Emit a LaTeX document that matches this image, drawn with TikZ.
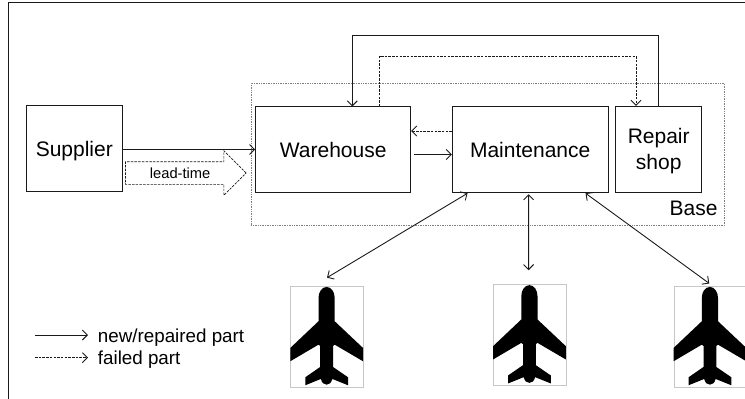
\documentclass[tikz,border=0pt]{standalone}
\usepackage{fontspec}
\setmainfont{Liberation Sans}
\usetikzlibrary{shapes.arrows}
\usetikzlibrary{arrows.meta}
\definecolor{line_gray}{HTML}{1A1A1A}
\tikzset{
  treenode/.style = {align=center, inner sep=0pt, text centered,
    font=\fontsize{21}{26}\selectfont},
  box_node/.style = {treenode, rectangle, draw=line_gray, line width=1pt, text depth=0pt},% boites
  base_node/.style = {rectangle, draw=gray, densely dotted, line width=0.7pt,
    minimum width=473pt, minimum height=142pt},% zone base
  plane_node/.style = {rectangle, draw=black!22, line width=0.7pt, inner sep=0pt,
    minimum width=72.7pt, minimum height=101pt},% cadre avion
  new_part/.style = {line_gray, line width=0.9pt, {Straight Barb[length=5pt,width=10pt]}-{Straight Barb[length=5pt,width=10pt]}},
  new_arrow/.style = {line_gray, line width=0.9pt, -{Straight Barb[length=5pt,width=10pt]}},
  failed_arrow/.style = {line_gray, line width=0.9pt, dash pattern=on 2.5pt off 1.2pt,
    -{Straight Barb[length=5pt,width=10pt]}},
  legend_text/.style = {anchor=base west, inner sep=0pt, font=\fontsize{18.8}{22}\selectfont},
  plane_shape/.pic = {
    \fill[black] (36.3,1) .. controls (41,1) and (44.4,6) .. (44.4,12) -- (44.4,35.3)
      -- (72.7,62) -- (72.7,75.3) -- (44.4,58.7) -- (42.7,60) -- (42.7,81)
      -- (57.7,91.3) -- (57.7,99.3) -- (42,93) .. controls (41,97) and (39,98.7) .. (36.3,98.7)
      .. controls (33.6,98.7) and (31.6,97) .. (30.6,93) -- (15,99.3) -- (15,91.3)
      -- (29.9,81) -- (29.9,60) -- (28.2,58.7) -- (0,75.3) -- (0,62)
      -- (28.2,35.3) -- (28.2,12) .. controls (28.2,6) and (31.6,1) .. (36.3,1) -- cycle;
  }
}
\begin{document}
\begin{tikzpicture}[x=1pt, y=-1pt]
      \useasboundingbox (0,0) rectangle (745,399);
      \draw[line_gray, line width=1.2pt] (8.5,399) -- (8.5,2.5) -- (745,2.5);
      % base et boites
      \node [base_node] (base) at (487.8,154.3) {};
      \node [box_node, minimum width=96pt, minimum height=85.6pt] (supplier) at (74.3,148.5) {Supplier};
      \node [box_node, minimum width=155pt, minimum height=85.3pt] (warehouse) at (333.2,149.6) {Warehouse};
      \node [box_node, minimum width=155.7pt, minimum height=85.3pt] (maintenance) at (530.2,149.6) {Maintenance};
      \node [box_node, minimum width=86pt, minimum height=85.7pt] (repair) at (658.7,149.2) {Repair\\shop};
      \node [treenode, anchor=base east] (base_label) at (717.7,215) {Base};
      % avions
      \node [plane_node] (plane1) at (327,336.8) {};
      \node [plane_node] (plane2) at (529.8,335) {};
      \node [plane_node] (plane3) at (710.3,336.8) {};
      \foreach \p in {plane1,plane2,plane3}
        \pic at (\p.north west) {plane_shape};
      % delai
      \node [single arrow, draw=line_gray, line width=0.7pt, dash pattern=on 2.5pt off 1.2pt,
        single arrow head extend=11pt, single arrow tip angle=90, single arrow head indent=0pt,
        minimum height=120.7pt, minimum width=44pt, inner xsep=0pt, inner ysep=0pt,
        text height=16pt, text depth=6pt, anchor=tip, font=\fontsize{14.7}{16}\selectfont]
        (leadtime) at (246.7,173) {lead-time};
      % liens
      \draw[new_arrow] (supplier.east |- 0,149.5) -- (warehouse.west |- 0,149.5);
      \draw[new_arrow] (repair.north) -- ++(0,-70.3) -| ([xshift=19.1pt]warehouse.north);
      \draw[failed_arrow] ([xshift=46.5pt]warehouse.north) -- ++(0,-50.5) -| ([xshift=-22.7pt]repair.north);
      \draw[failed_arrow] ([yshift=18.6pt]maintenance.west) -- ([yshift=18.6pt]warehouse.east);
      \draw[new_arrow] ([xshift=3pt,yshift=-4.9pt]warehouse.east) -- ([yshift=-4.9pt]maintenance.west);
      \draw[new_part] ([xshift=15.7pt,yshift=-0.5pt]maintenance.south west) -- ([yshift=8.3pt]plane1.north);
      \draw[new_part] ([yshift=-1.5pt,xshift=-1.6pt]maintenance.south) -- ([yshift=14pt,xshift=-1.2pt]plane2.north);
      \draw[new_part] ([xshift=-23pt,yshift=-0.5pt]maintenance.south east) -- ([yshift=2.5pt,xshift=-1pt]plane3.north);
      % legende
      \coordinate (new_start) at (35,335);
      \coordinate (new_end) at (88,335);
      \coordinate (failed_start) at (35,357.7);
      \coordinate (failed_end) at (88,357.7);
      \draw[new_arrow] (new_start) -- (new_end);
      \draw[failed_arrow] (failed_start) -- (failed_end);
      \node [legend_text] (new_label) at (97.7,342) {new/repaired part};
      \node [legend_text] (failed_label) at (97.7,364.5) {failed part};
    \end{tikzpicture}
\end{document}
